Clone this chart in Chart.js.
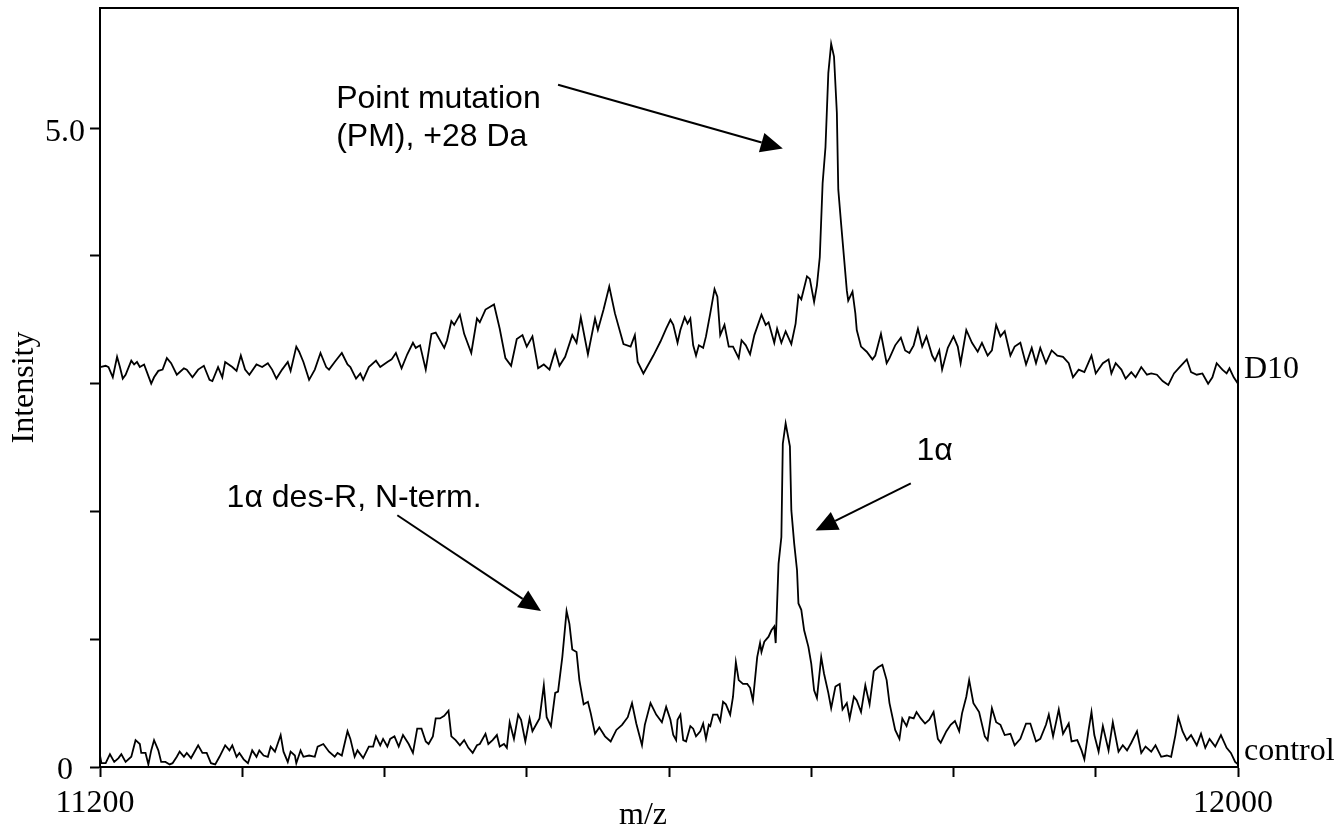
<!DOCTYPE html>
<html>
<head>
<meta charset="utf-8">
<script src="https://cdn.jsdelivr.net/npm/chart.js@4.4.0/dist/chart.umd.min.js"></script>
<style>
  html, body { margin: 0; padding: 0; background: #fff; }
  #wrap { width: 1342px; height: 829px; }
</style>
</head>
<body>
<div id="wrap"><canvas id="espectro" width="1342" height="829"></canvas></div>
<script>
// espectro D10 (m/z, intensidade)
const mzD10 = [
  11200, 11204, 11206, 11209, 11212, 11214, 11216, 11218, 11222, 11224,
  11226, 11228, 11231, 11233, 11236, 11238, 11241, 11244, 11247, 11250,
  11254, 11259, 11261, 11265, 11269, 11273, 11277, 11279, 11283, 11286,
  11288, 11293, 11296, 11299, 11302, 11305, 11310, 11314, 11318, 11321,
  11324, 11328, 11332, 11334, 11338, 11340, 11343, 11347, 11351, 11355,
  11359, 11361, 11365, 11370, 11374, 11376, 11380, 11383, 11385, 11389,
  11394, 11397, 11402, 11405, 11408, 11412, 11416, 11420, 11422, 11425,
  11429, 11433, 11436, 11442, 11444, 11447, 11449, 11453, 11456, 11461,
  11465, 11467, 11471, 11477, 11481, 11485, 11489, 11493, 11497, 11500,
  11504, 11508, 11512, 11516, 11520, 11523, 11527, 11532, 11535, 11538,
  11543, 11548, 11550, 11554, 11558, 11562, 11568, 11573, 11576, 11578,
  11582, 11589, 11594, 11598,
  11601, 11603, 11606, 11608, 11611, 11613, 11615, 11617, 11619, 11621,
  11624, 11626, 11629, 11632, 11634, 11636, 11639, 11642, 11645, 11649,
  11651, 11654, 11657, 11660, 11665, 11668, 11670, 11674, 11676, 11679,
  11682, 11686, 11689, 11691, 11693, 11697, 11699, 11702, 11704, 11706,
  11708, 11710, 11712, 11714, 11716, 11718, 11719, 11721, 11723, 11725,
  11726, 11729, 11731, 11732, 11735, 11739, 11743, 11745, 11749, 11753,
  11755, 11759, 11763, 11766, 11769, 11772, 11775, 11778, 11781, 11785,
  11787, 11790, 11792, 11796, 11800, 11803, 11805, 11809, 11813, 11817,
  11820, 11824, 11827, 11830, 11833, 11836, 11840, 11843, 11847, 11851,
  11855, 11858, 11861, 11865, 11869, 11873, 11877, 11881, 11884, 11888,
  11892, 11897, 11900, 11905, 11909, 11911, 11914, 11918, 11921, 11925,
  11928, 11932, 11936, 11939, 11943, 11947, 11951, 11955, 11959, 11964,
  11967, 11971, 11975, 11979, 11982, 11985, 11989, 11992, 11994, 11997,
  12000
];
const intD10 = [
  3.13, 3.14, 3.13, 3.05, 3.21, 3.13, 3.04, 3.07, 3.18, 3.15,
  3.17, 3.13, 3.15, 3.09, 3.00, 3.05, 3.10, 3.11, 3.20, 3.16,
  3.07, 3.12, 3.11, 3.05, 3.11, 3.14, 3.03, 3.02, 3.13, 3.05,
  3.17, 3.13, 3.10, 3.22, 3.11, 3.07, 3.15, 3.13, 3.16, 3.11,
  3.04, 3.11, 3.17, 3.10, 3.29, 3.25, 3.17, 3.03, 3.11, 3.24,
  3.13, 3.11, 3.17, 3.24, 3.15, 3.13, 3.04, 3.08, 3.03, 3.13,
  3.18, 3.13, 3.17, 3.19, 3.24, 3.12, 3.23, 3.32, 3.28, 3.30,
  3.11, 3.39, 3.40, 3.28, 3.34, 3.49, 3.46, 3.54, 3.39, 3.24,
  3.51, 3.48, 3.58, 3.62, 3.43, 3.20, 3.14, 3.35, 3.38, 3.29,
  3.37, 3.12, 3.15, 3.11, 3.26, 3.14, 3.21, 3.38, 3.32, 3.52,
  3.23, 3.51, 3.42, 3.58, 3.76, 3.55, 3.31, 3.29, 3.38, 3.17,
  3.08, 3.22, 3.33, 3.43,
  3.50, 3.46, 3.32, 3.42, 3.52, 3.47, 3.51, 3.30, 3.22, 3.30,
  3.28, 3.37, 3.55, 3.74, 3.68, 3.38, 3.46, 3.29, 3.29, 3.20,
  3.34, 3.30, 3.23, 3.38, 3.54, 3.46, 3.48, 3.32, 3.43, 3.32,
  3.41, 3.31, 3.47, 3.69, 3.66, 3.84, 3.82, 3.64, 3.77, 3.99,
  4.57, 4.85, 5.43, 5.66, 5.56, 5.12, 4.52, 4.25, 3.99, 3.73,
  3.65, 3.72, 3.55, 3.42, 3.29, 3.25, 3.19, 3.22, 3.39, 3.16,
  3.20, 3.30, 3.36, 3.26, 3.24, 3.30, 3.43, 3.29, 3.37, 3.22,
  3.18, 3.26, 3.11, 3.28, 3.37, 3.29, 3.16, 3.42, 3.32, 3.25,
  3.32, 3.22, 3.26, 3.46, 3.37, 3.41, 3.22, 3.29, 3.32, 3.15,
  3.28, 3.16, 3.28, 3.16, 3.26, 3.22, 3.21, 3.16, 3.05, 3.11,
  3.09, 3.22, 3.08, 3.16, 3.19, 3.08, 3.16, 3.11, 3.04, 3.09,
  3.05, 3.13, 3.07, 3.08, 3.07, 3.02, 2.99, 3.08, 3.13, 3.19,
  3.09, 3.07, 3.08, 3.00, 3.05, 3.16, 3.11, 3.08, 3.12, 3.05,
  3.00
];

// espectro controle
const mzControl = [
  11200, 11201, 11204, 11207, 11210, 11213, 11215, 11218, 11222, 11225,
  11228, 11229, 11232, 11234, 11236, 11238, 11241, 11243, 11246, 11249,
  11251, 11254, 11256, 11259, 11261, 11264, 11266, 11269, 11272, 11275,
  11278, 11281, 11284, 11288, 11291, 11293, 11296, 11298, 11301, 11304,
  11307, 11310, 11312, 11315, 11318, 11320, 11323, 11327, 11329, 11332,
  11334, 11337, 11338, 11341, 11343, 11347, 11351, 11353, 11357, 11361,
  11365, 11367, 11370, 11374, 11376, 11379, 11381, 11385, 11389, 11392,
  11394, 11397, 11399, 11402, 11404, 11407, 11410, 11413, 11417, 11420,
  11423, 11426, 11429, 11431, 11434, 11436, 11439, 11442, 11445, 11447,
  11450, 11453, 11456, 11459, 11462, 11465, 11467, 11471, 11473, 11476,
  11479, 11481, 11484, 11486, 11488, 11491, 11494, 11496, 11499, 11502,
  11504, 11507, 11509, 11512, 11514, 11517, 11520, 11522, 11525, 11528,
  11530, 11532, 11535, 11537, 11540, 11543, 11545, 11548, 11551, 11555,
  11559, 11563, 11567, 11571, 11574, 11577, 11581, 11583, 11587, 11591,
  11595, 11598,
  11601, 11603, 11605, 11606, 11608, 11610, 11612, 11615, 11617, 11619,
  11622, 11624, 11626, 11628, 11629, 11631, 11634, 11636, 11638, 11640,
  11643, 11645, 11647, 11649, 11652, 11655, 11657, 11659, 11662, 11664,
  11665, 11667, 11670, 11672, 11674, 11675, 11676, 11677, 11679, 11680,
  11682, 11685, 11686, 11688, 11690, 11691, 11693, 11695, 11698, 11700,
  11702, 11704, 11707, 11709, 11712, 11714, 11717, 11720, 11722, 11725,
  11727, 11730, 11732, 11735, 11738, 11741, 11744, 11747, 11750, 11753,
  11755, 11759, 11762, 11764, 11767, 11769, 11772, 11774, 11777, 11780,
  11783, 11786, 11789, 11791, 11795, 11798, 11801, 11804, 11806, 11809,
  11811, 11814, 11818, 11822, 11824, 11827, 11830, 11833, 11836, 11840,
  11843, 11847, 11851, 11854, 11858, 11861, 11865, 11867, 11870, 11874,
  11877, 11881, 11883, 11887, 11890, 11892, 11895, 11897, 11899, 11902,
  11905, 11909, 11912, 11916, 11919, 11922, 11925, 11929, 11932, 11935,
  11939, 11942, 11946, 11950, 11953, 11956, 11958, 11961, 11964, 11967,
  11971, 11974, 11977, 11980, 11984, 11988, 11992, 11995, 11998, 12000
];
const intControl = [
  0.09, 0.03, 0.03, 0.10, 0.04, 0.07, 0.10, 0.04, 0.08, 0.21,
  0.18, 0.11, 0.11, 0.02, 0.13, 0.21, 0.13, 0.04, 0.04, 0.02,
  0.03, 0.08, 0.12, 0.08, 0.11, 0.07, 0.11, 0.17, 0.11, 0.11,
  0.03, 0.02, 0.08, 0.17, 0.13, 0.17, 0.08, 0.11, 0.06, 0.03,
  0.13, 0.08, 0.13, 0.09, 0.08, 0.16, 0.12, 0.25, 0.12, 0.04,
  0.12, 0.09, 0.03, 0.13, 0.08, 0.09, 0.08, 0.16, 0.18, 0.12,
  0.08, 0.11, 0.09, 0.28, 0.22, 0.08, 0.13, 0.07, 0.16, 0.16,
  0.24, 0.17, 0.22, 0.16, 0.22, 0.24, 0.16, 0.25, 0.18, 0.11,
  0.30, 0.30, 0.20, 0.18, 0.24, 0.38, 0.38, 0.40, 0.44, 0.24,
  0.21, 0.17, 0.21, 0.15, 0.11, 0.17, 0.18, 0.26, 0.18, 0.21,
  0.25, 0.16, 0.18, 0.15, 0.35, 0.22, 0.41, 0.37, 0.20, 0.38,
  0.28, 0.34, 0.38, 0.64, 0.39, 0.32, 0.58, 0.59, 0.86, 1.22,
  1.12, 0.92, 0.90, 0.68, 0.49, 0.51, 0.42, 0.26, 0.31, 0.24,
  0.20, 0.29, 0.33, 0.39, 0.50, 0.34, 0.17, 0.33, 0.50, 0.41,
  0.35, 0.47,
  0.37, 0.25, 0.21, 0.37, 0.41, 0.21, 0.20, 0.32, 0.30, 0.24,
  0.28, 0.34, 0.22, 0.33, 0.32, 0.41, 0.41, 0.36, 0.51, 0.49,
  0.41, 0.55, 0.82, 0.68, 0.65, 0.65, 0.62, 0.52, 0.86, 0.97,
  0.90, 0.98, 1.02, 1.07, 1.10, 0.97, 1.28, 1.59, 1.80, 2.53,
  2.69, 2.51, 2.01, 1.75, 1.54, 1.28, 1.23, 1.07, 0.94, 0.81,
  0.60, 0.54, 0.86, 0.73, 0.58, 0.46, 0.63, 0.65, 0.45, 0.50,
  0.38, 0.55, 0.52, 0.43, 0.64, 0.49, 0.75, 0.78, 0.80, 0.68,
  0.50, 0.29, 0.22, 0.38, 0.32, 0.39, 0.38, 0.43, 0.38, 0.34,
  0.37, 0.43, 0.22, 0.19, 0.28, 0.33, 0.36, 0.28, 0.42, 0.55,
  0.68, 0.50, 0.43, 0.24, 0.21, 0.46, 0.35, 0.33, 0.25, 0.26,
  0.17, 0.22, 0.34, 0.34, 0.20, 0.22, 0.33, 0.41, 0.24, 0.45,
  0.26, 0.34, 0.20, 0.21, 0.13, 0.06, 0.29, 0.43, 0.25, 0.12,
  0.32, 0.13, 0.35, 0.12, 0.17, 0.13, 0.19, 0.28, 0.11, 0.16,
  0.12, 0.17, 0.08, 0.09, 0.08, 0.25, 0.39, 0.28, 0.21, 0.25,
  0.17, 0.26, 0.15, 0.22, 0.16, 0.25, 0.15, 0.11, 0.04, 0.02
];

const seriesNames = ['D10', 'control'];

// marcas e rótulos dos eixos
const xGridTicks = [11200, 11300, 11400, 11500, 11600, 11700, 11800, 11900, 12000];
const xTickValues = [11200, 12000];
const xTickLabels = ['11200', '12000'];
const yGridTicks = [0, 1, 2, 3, 4, 5];
const yTickValues = [0, 5];
const yTickLabels = ['0', '5.0'];

// anotações (texto + seta), em coordenadas de dados
const anotacoes = [
  { linhas: ['Point mutation', '(PM), +28 Da'], x: 11366, y: 5.23, de: [11522, 5.34], ate: [11680, 4.84] },
  { linhas: ['1\u03b1 des-R, N-term.'], x: 11289, y: 2.10, de: [11409, 1.97], ate: [11510, 1.22] },
  { linhas: ['1\u03b1'], x: 11774, y: 2.47, de: [11770, 2.22], ate: [11703, 1.85] }
];
// posição vertical dos nomes das séries (ao lado direito)
const nomeY = [3.11, 0.12];

const serif = '"Liberation Serif", "Times New Roman", serif';
const sans = '"Liberation Sans", Arial, sans-serif';

function seta(ctx, x0, y0, x1, y1) {
  const ang = Math.atan2(y1 - y0, x1 - x0);
  const comp = 22, larg = 10;
  const bx = x1 - comp * Math.cos(ang), by = y1 - comp * Math.sin(ang);
  ctx.beginPath();
  ctx.moveTo(x0, y0);
  ctx.lineTo(bx, by);
  ctx.stroke();
  ctx.beginPath();
  ctx.moveTo(x1, y1);
  ctx.lineTo(bx + larg * Math.sin(ang), by - larg * Math.cos(ang));
  ctx.lineTo(bx - larg * Math.sin(ang), by + larg * Math.cos(ang));
  ctx.closePath();
  ctx.fill();
}

const textosPlugin = {
  id: 'textos',
  afterDraw(chart) {
    const ctx = chart.ctx;
    const a = chart.chartArea;
    const xs = chart.scales.x, ys = chart.scales.y;
    ctx.save();
    ctx.strokeStyle = '#000';
    ctx.fillStyle = '#000';
    ctx.lineWidth = 2;
    ctx.strokeRect(a.left, a.top, a.right - a.left, a.bottom - a.top);

    // rótulos dos eixos
    ctx.font = '32px ' + serif;
    ctx.textAlign = 'center';
    ctx.textBaseline = 'middle';
    xTickValues.forEach((v, i) => ctx.fillText(xTickLabels[i], xs.getPixelForValue(v) - 5, 804));
    yTickValues.forEach((v, i) => ctx.fillText(yTickLabels[i], 65, ys.getPixelForValue(v) + 4));
    ctx.fillText('m/z', 643, 816);
    ctx.save();
    ctx.translate(25, (a.top + a.bottom) / 2);
    ctx.rotate(-Math.PI / 2);
    ctx.fillText('Intensity', 0, 0);
    ctx.restore();

    // nomes das séries
    ctx.textAlign = 'left';
    seriesNames.forEach((n, i) => ctx.fillText(n, a.right + 6, ys.getPixelForValue(nomeY[i])));

    // anotações
    ctx.font = '32px ' + sans;
    ctx.lineWidth = 2;
    anotacoes.forEach(an => {
      const tx = xs.getPixelForValue(an.x), ty = ys.getPixelForValue(an.y);
      an.linhas.forEach((l, k) => ctx.fillText(l, tx, ty + k * 38));
      seta(ctx, xs.getPixelForValue(an.de[0]), ys.getPixelForValue(an.de[1]),
        xs.getPixelForValue(an.ate[0]), ys.getPixelForValue(an.ate[1]));
    });
    ctx.restore();
  }
};

function pontos(mz, inten) {
  return mz.map((x, i) => ({ x: x, y: inten[i] }));
}

const config = {
  type: 'line',
  data: {
    datasets: [
      { label: seriesNames[0], data: pontos(mzD10, intD10), borderColor: '#000', borderWidth: 1.8, pointRadius: 0, tension: 0 },
      { label: seriesNames[1], data: pontos(mzControl, intControl), borderColor: '#000', borderWidth: 1.8, pointRadius: 0, tension: 0 }
    ]
  },
  options: {
    responsive: false,
    animation: false,
    devicePixelRatio: 1,
    layout: { padding: { left: 0, right: 104, top: 8, bottom: 0 } },
    plugins: { legend: { display: false }, tooltip: { enabled: false } },
    scales: {
      x: {
        type: 'linear',
        min: 11200,
        max: 12000,
        afterBuildTicks: s => { s.ticks = xGridTicks.map(v => ({ value: v })); },
        afterFit: s => { s.height = 62; },
        ticks: { callback: () => '', padding: 0 },
        grid: { drawOnChartArea: false, drawTicks: true, tickLength: 10, tickColor: '#000', tickWidth: 2 },
        border: { display: true, color: '#000', width: 2 }
      },
      y: {
        min: 0,
        max: 5.94,
        afterBuildTicks: s => { s.ticks = yGridTicks.map(v => ({ value: v })); },
        afterFit: s => { s.width = 100; },
        ticks: { callback: () => '', padding: 0 },
        grid: { drawOnChartArea: false, drawTicks: true, tickLength: 10, tickColor: '#000', tickWidth: 2 },
        border: { display: true, color: '#000', width: 2 }
      }
    }
  },
  plugins: [textosPlugin]
};

document.addEventListener('DOMContentLoaded', function() {
  const ctx = document.getElementById('espectro').getContext('2d');
  new Chart(ctx, config);
});
</script>
</body>
</html>
